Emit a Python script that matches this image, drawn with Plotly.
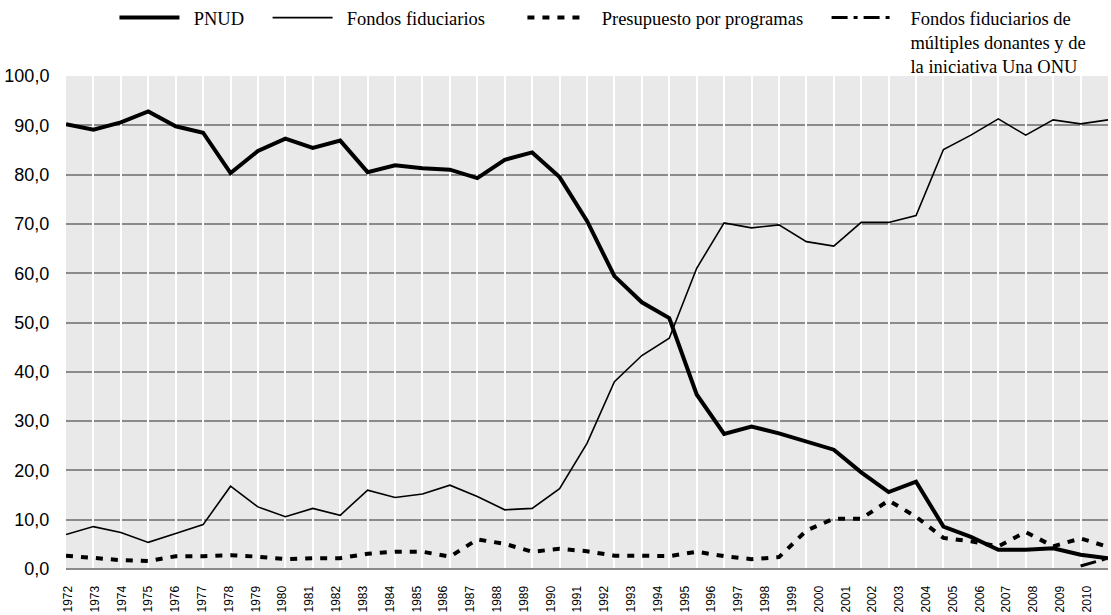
import plotly.graph_objects as go

years = list(range(1972, 2011))

pnud = [90.2, 89.1, 90.6, 92.8, 89.8, 88.5, 80.3, 84.8, 87.3, 85.4, 86.9, 80.5, 81.9,
        81.3, 81.0, 79.3, 83.0, 84.5, 79.5, 70.6, 59.4, 54.1, 50.9, 35.4, 27.4, 28.9,
        27.5, 25.9, 24.2, 19.6, 15.6, 17.7, 8.6, 6.5, 3.9, 3.9, 4.2, 2.9, 2.2]

fondos = [7.0, 8.6, 7.4, 5.4, 7.2, 9.0, 16.8, 12.6, 10.6, 12.3, 10.9, 16.0, 14.5,
          15.2, 17.0, 14.7, 12.0, 12.3, 16.3, 25.5, 38.0, 43.3, 46.8, 61.0, 70.2, 69.2,
          69.8, 66.4, 65.5, 70.3, 70.3, 71.7, 85.1, 88.0, 91.3, 88.0, 91.1, 90.3, 91.1]

presupuesto = [2.7, 2.2, 1.8, 1.6, 2.6, 2.6, 2.8, 2.5, 2.0, 2.2, 2.2, 3.1, 3.5,
               3.5, 2.5, 6.0, 5.1, 3.5, 4.1, 3.6, 2.7, 2.7, 2.6, 3.5, 2.6, 2.0,
               2.4, 7.8, 10.2, 10.2, 13.9, 10.6, 6.3, 5.6, 4.6, 7.5, 4.6, 6.2, 4.5]

multi = [None] * 37 + [0.6, 2.2]

y_ticks = list(range(0, 101, 10))

NB = "\u00a0"
names = [
    NB * 2 + "PNUD" + NB * 4,
    NB * 2 + "Fondos fiduciarios" + NB * 7,
    NB * 2 + "Presupuesto por programas" + NB * 4,
    NB * 3 + "Fondos fiduciarios de<br>" + NB * 3 + "múltiples donantes y de<br>"
    + NB * 3 + "la iniciativa Una ONU",
]

fig = go.Figure()
# helper (no visible marks) so that the label axis is drawn
fig.add_trace(go.Scatter(x=years, y=[None] * len(years), mode="lines", xaxis="x",
                         showlegend=False, hoverinfo="skip"))
fig.add_trace(go.Scatter(x=years, y=pnud, name=names[0], mode="lines", xaxis="x2",
                         line=dict(color="black", width=4)))
fig.add_trace(go.Scatter(x=years, y=fondos, name=names[1], mode="lines", xaxis="x2",
                         line=dict(color="black", width=1.6)))
fig.add_trace(go.Scatter(x=years, y=presupuesto, name=names[2], mode="lines", xaxis="x2",
                         line=dict(color="black", width=4, dash="7px,8px")))
fig.add_trace(go.Scatter(x=years, y=multi, name=names[3], mode="lines", xaxis="x2",
                         line=dict(color="black", width=3, dash="16px,6px,4px,6px")))

grey = "#8a8a8a"
fig.update_layout(
    width=1111, height=615,
    margin=dict(l=66, r=3, t=76, b=46, autoexpand=False),
    paper_bgcolor="white",
    plot_bgcolor="#e9e9e9",
    separators=",.",
    showlegend=True,
    legend=dict(orientation="h", x=0.0465, xanchor="left", y=1.156, yanchor="top",
                valign="top", itemwidth=60,
                font=dict(family="Liberation Serif", size=18.5, color="black"),
                bgcolor="rgba(0,0,0,0)"),
    # label axis (Excel places the rotated labels slightly compressed)
    xaxis=dict(range=[1971.925, 2010.783], tickmode="array", tickvals=years,
               ticktext=[str(y) for y in years], tickangle=-90,
               tickfont=dict(family="Liberation Sans", size=12, color="black"),
               showgrid=False, zeroline=False, showline=False, automargin=False,
               ticks="outside", ticklen=11, tickcolor="rgba(0,0,0,0)"),
    # data axis with white vertical grid
    xaxis2=dict(range=[1972, 2010], overlaying="x", anchor="y", side="bottom",
                tickmode="array", tickvals=years, showticklabels=False, ticks="",
                showgrid=True, gridcolor="white", gridwidth=1.5,
                zeroline=False, showline=False, automargin=False),
    yaxis=dict(range=[0, 100], tickmode="array", tickvals=y_ticks,
               tickformat=".1f",
               tickfont=dict(family="Liberation Sans", size=18, color="black"),
               showgrid=False,
               minor=dict(tickmode="array", tickvals=[v + 0.0001 for v in y_ticks],
                          showgrid=True, gridcolor=grey, gridwidth=2, ticks=""),
               zeroline=True, zerolinecolor=grey, zerolinewidth=2,
               showline=False, automargin=False,
               ticks="outside", ticklen=12, tickcolor="rgba(0,0,0,0)"),
)

fig.write_html("out.html", config={"displayModeBar": False},
               post_script="document.body.style.margin='0px';")
